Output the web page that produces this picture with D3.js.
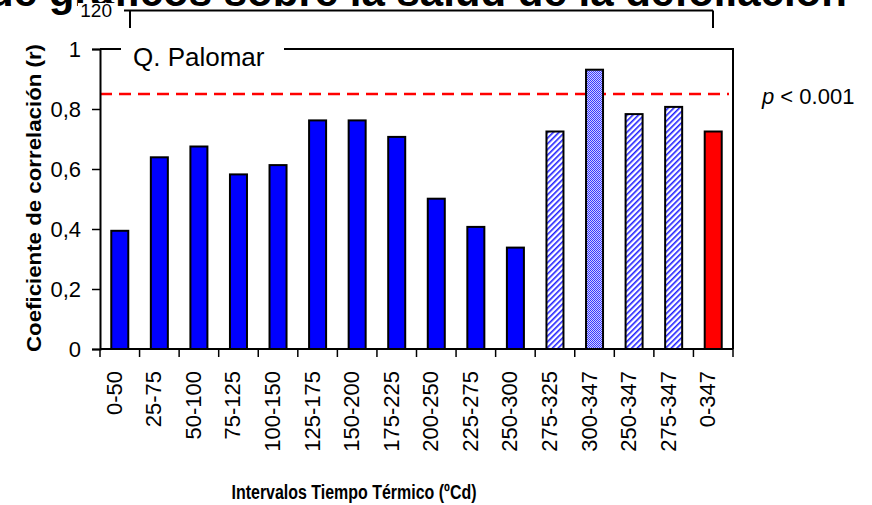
<!DOCTYPE html>
<html>
<head>
<meta charset="utf-8">
<script src="https://cdn.jsdelivr.net/npm/d3@7"></script>
<style>
  html, body { margin: 0; padding: 0; background: #fff; overflow: hidden; }
  svg { display: block; }
</style>
</head>
<body>
<svg id="chart" width="872" height="505"></svg>
<script>
// ---- data ----
const categories = ["0-50","25-75","50-100","75-125","100-150","125-175","150-200","175-225",
                    "200-250","225-275","250-300","275-325","300-347","250-347","275-347","0-347"];
const values = [0.394,0.639,0.675,0.582,0.613,0.762,0.762,0.707,
                0.501,0.407,0.338,0.725,0.931,0.783,0.807,0.725];
const stripedCats = ["275-325","250-347","275-347"];
const checkerCats = ["300-347"];
const totalCats = ["0-347"];
const yTicks = [0,0.2,0.4,0.6,0.8,1];
const threshold = 0.85;
const thresholdLabel = "< 0.001";
const panelTitle = "Q. Palomar";
const yTitle = "Coeficiente de correlación (r)";
const xTitle = "Intervalos Tiempo Térmico (ºCd)";
const slideTitle = "de gráficos sobre la salud de la defoliación";
const backTick = "120";

// ---- layout ----
const svg = d3.select("#chart");
const pLeft = 100, pRight = 733, pTop = 49, pBottom = 349;
const x = d3.scaleBand().domain(categories).range([pLeft, pRight]).paddingInner(0.57).paddingOuter(0.285);
const y = d3.scaleLinear().domain([0, 1]).range([pBottom, pTop]);
const FONT = "'Liberation Sans', Arial, Helvetica, sans-serif";

// patterns
const defs = svg.append("defs");
const stripe = defs.append("pattern").attr("id","stripe").attr("patternUnits","userSpaceOnUse")
  .attr("width",4).attr("height",4).attr("patternTransform","rotate(45)");
stripe.append("rect").attr("width",4).attr("height",4).attr("fill","#fff");
stripe.append("rect").attr("x",0).attr("y",0).attr("width",1.6).attr("height",4).attr("fill","#2020ff");
const checker = defs.append("pattern").attr("id","checker").attr("patternUnits","userSpaceOnUse")
  .attr("width",2).attr("height",2);
checker.append("rect").attr("width",2).attr("height",2).attr("fill","#d0d0ff");
checker.append("rect").attr("x",0).attr("y",0).attr("width",1).attr("height",1).attr("fill","#3a3aff");
checker.append("rect").attr("x",1).attr("y",1).attr("width",1).attr("height",1).attr("fill","#3a3aff");

// clipped slide title + background chart remnants
svg.append("text").attr("x", -12).attr("y", 6)
  .attr("font-family", FONT).attr("font-weight","bold").attr("font-size", 42)
  .attr("fill","#000").text(slideTitle);
svg.append("rect").attr("x",78).attr("y",3).attr("width",38).attr("height",18).attr("fill","#fff");
svg.append("text").attr("x", 112).attr("y", 17).attr("text-anchor","end")
  .attr("font-family", FONT).attr("font-size", 19).text(backTick);
svg.append("path").attr("d","M124,10.5H713M130,10.5V28M713,10.5V28")
  .attr("fill","none").attr("stroke","#000").attr("stroke-width",2);

// frame (top & right)
svg.append("path").attr("d",`M${pLeft},${pTop}H${pRight}V${pBottom}`)
  .attr("fill","none").attr("stroke","#000").attr("stroke-width",2);

// threshold line
svg.append("line").attr("x1", pLeft).attr("x2", pRight - 4)
  .attr("y1", y(threshold)).attr("y2", y(threshold))
  .attr("stroke","#ff0000").attr("stroke-width",2.5).attr("stroke-dasharray","12,7");

// bars
function fillFor(c) {
  if (stripedCats.includes(c)) return "url(#stripe)";
  if (checkerCats.includes(c)) return "url(#checker)";
  if (totalCats.includes(c)) return "#ff0000";
  return "#0000ff";
}
svg.append("g").selectAll("rect").data(categories).join("rect")
  .attr("x", c => x(c))
  .attr("y", (c,i) => y(values[i]))
  .attr("width", x.bandwidth())
  .attr("height", (c,i) => y(0) - y(values[i]))
  .attr("fill", c => fillFor(c))
  .attr("stroke","#000").attr("stroke-width",2);

// y axis
const yAxis = svg.append("g").attr("transform",`translate(${pLeft},0)`)
  .call(d3.axisLeft(y).tickValues(yTicks).tickSize(8).tickPadding(11)
    .tickFormat(d => d3.format("")(d).replace(".", ",")));
yAxis.select(".domain").attr("stroke","#000").attr("stroke-width",2);
yAxis.selectAll(".tick line").attr("stroke","#000").attr("stroke-width",1.5);
yAxis.selectAll("text").attr("font-family", FONT).attr("font-size", 22).attr("fill","#000");

// x axis (ticks at band boundaries)
const step = x.step();
const boundaries = d3.range(categories.length + 1).map(i => pLeft + i * step);
const xg = svg.append("g");
xg.append("line").attr("x1", pLeft).attr("x2", pRight).attr("y1", pBottom).attr("y2", pBottom)
  .attr("stroke","#000").attr("stroke-width",2);
xg.selectAll("line.tk").data(boundaries).join("line").attr("class","tk")
  .attr("x1", d => d).attr("x2", d => d).attr("y1", pBottom).attr("y2", pBottom + 8)
  .attr("stroke","#000").attr("stroke-width",1.5);
xg.selectAll("text").data(categories).join("text")
  .attr("transform", c => `translate(${x(c) + x.bandwidth()/2 + 2},371) rotate(-90)`)
  .attr("text-anchor","end")
  .attr("font-family", FONT).attr("font-size", 22).attr("fill","#000")
  .text(c => c);

// panel title with white box over frame
svg.append("rect").attr("x", 121).attr("y", 40).attr("width", 163).attr("height", 20).attr("fill","#fff");
svg.append("text").attr("x", 133).attr("y", 66)
  .attr("font-family", FONT).attr("font-size", 26).attr("fill","#000").text(panelTitle);

// p label
const pt = svg.append("text").attr("x", 762).attr("y", 104)
  .attr("font-family", FONT).attr("font-size", 22).attr("fill","#000");
pt.append("tspan").attr("font-style","italic").text("p");
pt.append("tspan").text(" " + thresholdLabel);

// axis titles
svg.append("text").attr("transform","translate(41,198) rotate(-90)")
  .attr("text-anchor","middle").attr("font-family", FONT).attr("font-weight","bold")
  .attr("font-size", 21).attr("textLength", 308).attr("lengthAdjust","spacingAndGlyphs")
  .attr("fill","#000").text(yTitle);
svg.append("text").attr("x", 354).attr("y", 499).attr("text-anchor","middle")
  .attr("font-family", FONT).attr("font-weight","bold")
  .attr("font-size", 20).attr("textLength", 245).attr("lengthAdjust","spacingAndGlyphs")
  .attr("fill","#000").text(xTitle);
</script>
</body>
</html>
